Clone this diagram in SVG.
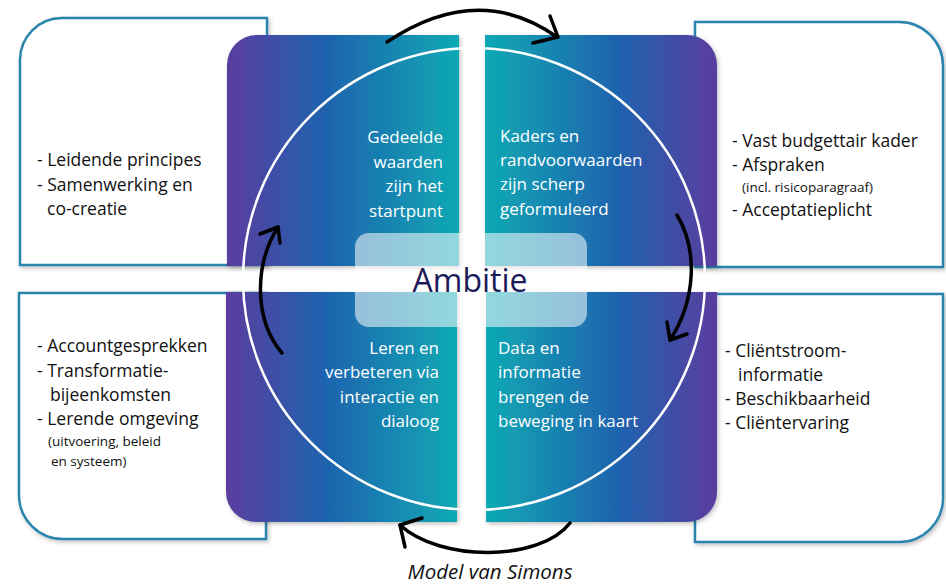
<svg xmlns="http://www.w3.org/2000/svg" width="946" height="587" viewBox="0 0 946 587">
  <defs>
    <linearGradient id="gL" x1="0" y1="0" x2="1" y2="0">
      <stop offset="0" stop-color="#5b3d9f"/>
      <stop offset="0.42" stop-color="#1f62ae"/>
      <stop offset="1" stop-color="#0fa9b4"/>
    </linearGradient>
    <linearGradient id="gR" x1="1" y1="0" x2="0" y2="0">
      <stop offset="0" stop-color="#5b3d9f"/>
      <stop offset="0.42" stop-color="#1f62ae"/>
      <stop offset="1" stop-color="#0fa9b4"/>
    </linearGradient>
    <filter id="sh" x="-10%" y="-10%" width="120%" height="120%">
      <feDropShadow dx="1.5" dy="2" stdDeviation="2" flood-color="#000" flood-opacity="0.25"/>
    </filter>
  </defs>
  <style>
    .box { fill: #fff; stroke: #2a84ad; stroke-width: 2.5; filter: url(#sh); }
    .quad { filter: url(#sh); }
    .qt { font-family: "Open Sans", "Liberation Sans", sans-serif; font-size: 17px; fill: #fff; }
    .st { font-family: "Open Sans", "Liberation Sans", sans-serif; font-size: 17.5px; fill: #111; }
    .sm { font-family: "Open Sans", "Liberation Sans", sans-serif; font-size: 13.5px; fill: #111; }
    .arr { fill: none; stroke: #000; stroke-width: 3.5; stroke-linecap: round; stroke-linejoin: round; }
  </style>
  <rect width="946" height="587" fill="#fff"/>

  <g id="box-tl">
    <path class="box" d="M20,60 A42,42 0 0 1 62,18 H267 V265 H20 Z"/>
    <text class="st" x="37" y="166">- Leidende principes</text>
    <text class="st" x="37" y="191">- Samenwerking en</text>
    <text class="st" x="47" y="215">co-creatie</text>
  </g>
  <g id="box-tr">
    <path class="box" d="M695,22 H899 A44,44 0 0 1 943,66 V267 H695 Z"/>
    <text class="st" x="732" y="147">- Vast budgettair kader</text>
    <text class="st" x="732" y="171">- Afspraken</text>
    <text class="sm" x="742" y="192">(incl. risicoparagraaf)</text>
    <text class="st" x="732" y="216">- Acceptatieplicht</text>
  </g>
  <g id="box-bl">
    <path class="box" d="M19,293 H266 V539 H63 A44,44 0 0 1 19,495 Z"/>
    <text class="st" x="37" y="352">- Accountgesprekken</text>
    <text class="st" x="37" y="377">- Transformatie-</text>
    <text class="st" x="50" y="401">bijeenkomsten</text>
    <text class="st" x="37" y="425">- Lerende omgeving</text>
    <text class="sm" x="48" y="446">(uitvoering, beleid</text>
    <text class="sm" x="51" y="466">en systeem)</text>
  </g>
  <g id="box-br">
    <path class="box" d="M695,294 H943 V498 A44,44 0 0 1 899,542 H695 Z"/>
    <text class="st" x="725" y="357">- Cliëntstroom-</text>
    <text class="st" x="738" y="381">informatie</text>
    <text class="st" x="725" y="405">- Beschikbaarheid</text>
    <text class="st" x="725" y="429">- Cliëntervaring</text>
  </g>

  <g id="quad-tl">
    <path class="quad" fill="url(#gL)" d="M227,65 A30,30 0 0 1 257,35 H459 V266 H227 Z"/>
    <text class="qt" text-anchor="end" x="443" y="143">Gedeelde</text>
    <text class="qt" text-anchor="end" x="443" y="168">waarden</text>
    <text class="qt" text-anchor="end" x="443" y="192">zijn het</text>
    <text class="qt" text-anchor="end" x="443" y="217">startpunt</text>
  </g>
  <g id="quad-tr">
    <path class="quad" fill="url(#gR)" d="M485,35 H687 A30,30 0 0 1 717,65 V266 H485 Z"/>
    <text class="qt" x="500" y="142">Kaders en</text>
    <text class="qt" x="500" y="166">randvoorwaarden</text>
    <text class="qt" x="500" y="190">zijn scherp</text>
    <text class="qt" x="500" y="215">geformuleerd</text>
  </g>
  <g id="quad-bl">
    <path class="quad" fill="url(#gL)" d="M226,292 H457 V522 H256 A30,30 0 0 1 226,492 Z"/>
    <text class="qt" text-anchor="end" x="439" y="354">Leren en</text>
    <text class="qt" text-anchor="end" x="439" y="378">verbeteren via</text>
    <text class="qt" text-anchor="end" x="439" y="403">interactie en</text>
    <text class="qt" text-anchor="end" x="439" y="427">dialoog</text>
  </g>
  <g id="quad-br">
    <path class="quad" fill="url(#gR)" d="M486,292 H717 V492 A30,30 0 0 1 687,522 H486 Z"/>
    <text class="qt" x="498" y="354">Data en</text>
    <text class="qt" x="498" y="378">informatie</text>
    <text class="qt" x="498" y="403">brengen de</text>
    <text class="qt" x="498" y="427">beweging in kaart</text>
  </g>

  <g id="ring">
    <circle cx="474" cy="279" r="231" fill="none" stroke="#fff" stroke-width="2.5"/>
  </g>

  <g id="ambitie">
    <rect x="355" y="233" width="232" height="94" rx="14" fill="#fff" fill-opacity="0.55"/>
    <text x="470" y="292" text-anchor="middle" font-family="Open Sans, Liberation Sans, sans-serif" font-size="32" fill="#1c1a58">Ambitie</text>
  </g>

  <g id="connectors">
    <path class="arr" d="M387,42 Q478,-19 557,37"/>
    <path class="arr" d="M550,16 L558,37 L533,43"/>
    <path class="arr" d="M677,215 C698,250 696,300 670,340"/>
    <path class="arr" d="M667,322 L670,340 L687,334"/>
    <path class="arr" d="M570,523 C540,562 440,562 400,525"/>
    <path class="arr" d="M422,518 L400,525 L405,547"/>
    <path class="arr" d="M282,353 C254,320 254,265 278,227"/>
    <path class="arr" d="M260,234 L278,227 L280,243"/>
  </g>

  <g id="caption">
    <text x="490" y="579" text-anchor="middle" font-family="Open Sans, Liberation Sans, sans-serif" font-size="20.5" font-style="italic" fill="#111">Model van Simons</text>
  </g>
</svg>
